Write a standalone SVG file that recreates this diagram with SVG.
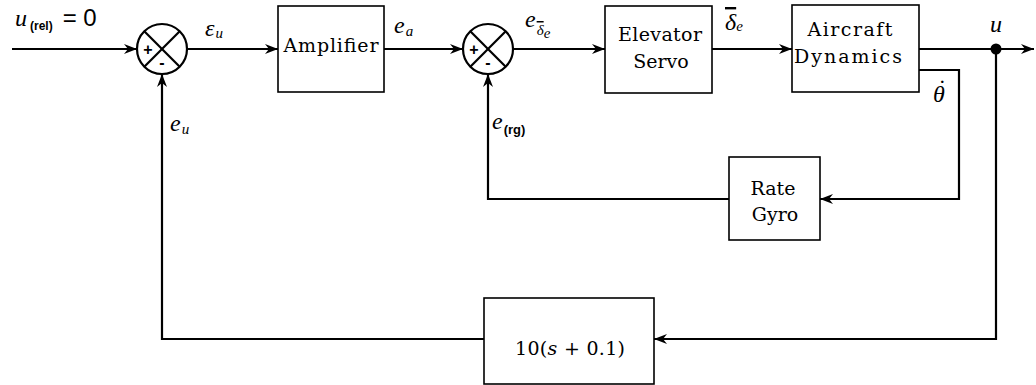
<svg xmlns="http://www.w3.org/2000/svg" width="1036" height="385" viewBox="0 0 1036 385">
<defs>
<marker id="arr" markerUnits="userSpaceOnUse" markerWidth="14" markerHeight="12" refX="13" refY="6" orient="auto">
<path d="M0,1 L13,6 L0,11 L4,6 Z" fill="#000"/>
</marker>
<style>
.box{fill:#fff;stroke:#000;stroke-width:1.6}
.ln{fill:none;stroke:#000;stroke-width:2.2}
.cn{fill:none;stroke:#000;stroke-width:2.2;marker-end:url(#arr)}
.bt{font-family:"DejaVu Serif","Liberation Serif",serif;font-size:19px;text-anchor:middle;fill:#000}
.m{font-family:"Liberation Serif","DejaVu Serif",serif;font-style:italic;font-size:24px;fill:#000}
.s{font-family:"Liberation Serif","DejaVu Serif",serif;font-style:italic;font-size:15px;fill:#000}
.sg{font-family:"Liberation Sans",sans-serif;font-weight:bold;font-size:16px;text-anchor:middle;fill:#000}
</style>
</defs>
<rect width="1036" height="385" fill="#fff"/>

<g id="connectors">
<line class="cn" x1="12" y1="49" x2="137" y2="49"/>
<line class="cn" x1="187" y1="49" x2="278" y2="49"/>
<line class="cn" x1="384" y1="49" x2="463" y2="49"/>
<line class="cn" x1="513" y1="49" x2="605" y2="49"/>
<line class="cn" x1="712" y1="49" x2="792" y2="49"/>
<line class="cn" x1="919" y1="49" x2="1034" y2="49"/>
<polyline class="cn" points="919,70 959,70 959,199 820,199"/>
<polyline class="cn" points="729,199 488,199 488,74"/>
<polyline class="cn" points="996,49 996,339 654,339"/>
<polyline class="cn" points="484,339 162,339 162,74"/>
<circle cx="996" cy="49" r="5.5" fill="#000"/>
</g>

<g id="sum1">
<circle cx="162" cy="49" r="25" fill="#fff" stroke="#000" stroke-width="2.2"/>
<line class="ln" x1="144.3" y1="31.3" x2="179.7" y2="66.7"/>
<line class="ln" x1="179.7" y1="31.3" x2="144.3" y2="66.7"/>
<text class="sg" x="148" y="55">+</text>
<text class="sg" x="162" y="68">-</text>
</g>

<g id="sum2">
<circle cx="488" cy="49" r="25" fill="#fff" stroke="#000" stroke-width="2.2"/>
<line class="ln" x1="470.3" y1="31.3" x2="505.7" y2="66.7"/>
<line class="ln" x1="505.7" y1="31.3" x2="470.3" y2="66.7"/>
<text class="sg" x="474" y="55">+</text>
<text class="sg" x="488" y="68">-</text>
</g>

<g id="amplifier">
<rect class="box" x="278" y="6" width="106" height="86"/>
<text class="bt" x="331" y="52" textLength="95">Amplifier</text>
</g>

<g id="elevator-servo">
<rect class="box" x="605" y="6" width="107" height="87"/>
<text class="bt" x="660" y="41" textLength="84">Elevator</text>
<text class="bt" x="661" y="68">Servo</text>
</g>

<g id="aircraft-dynamics">
<rect class="box" x="792" y="5" width="127" height="87"/>
<text class="bt" x="850" y="36" textLength="85">Aircraft</text>
<text class="bt" x="848" y="63" textLength="108">Dynamics</text>
</g>

<g id="rate-gyro">
<rect class="box" x="729" y="157" width="91" height="83"/>
<text class="bt" x="773" y="195">Rate</text>
<text class="bt" x="775" y="221">Gyro</text>
</g>

<g id="compensator">
<rect class="box" x="484" y="298" width="170" height="86"/>
<text class="bt" x="570" y="355" textLength="110">10(<tspan font-style="italic">s</tspan> + 0.1)</text>
</g>

<g id="labels">
<text x="15" y="26"><tspan class="m">u</tspan><tspan font-family="Liberation Sans, sans-serif" font-size="12" font-weight="bold" dx="3" dy="4">(rel)</tspan><tspan font-family="Liberation Sans, sans-serif" font-size="24" dx="10" dy="-4">= 0</tspan></text>
<text x="205" y="36"><tspan class="m">ε</tspan><tspan class="s" dx="1" dy="2">u</tspan></text>
<text x="170" y="131"><tspan class="m">e</tspan><tspan class="s" dx="1" dy="3">u</tspan></text>
<text x="394" y="33"><tspan class="m">e</tspan><tspan class="s" dx="1" dy="3">a</tspan></text>
<text x="525" y="27"><tspan class="m">e</tspan><tspan class="s" dx="1" dy="8" text-decoration="overline">δ</tspan><tspan class="s" font-size="11" dy="3">e</tspan></text>
<text x="725" y="30"><tspan class="m" font-size="22" text-decoration="overline">δ</tspan><tspan class="s" dy="1">e</tspan></text>
<text x="492" y="129"><tspan class="m">e</tspan><tspan font-family="Liberation Sans, sans-serif" font-weight="bold" font-size="13" dx="1" dy="5">(rg)</tspan></text>
<text class="m" x="933" y="102" font-size="22">θ<tspan dx="-8" dy="-6">˙</tspan></text>
<text class="m" x="990" y="32">u</text>
</g>
</svg>
